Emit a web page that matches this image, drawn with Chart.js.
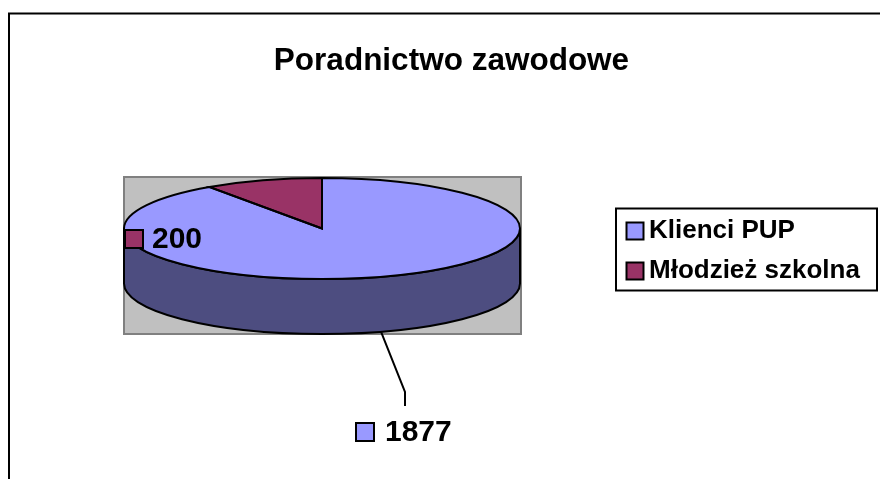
<!DOCTYPE html>
<html><head><meta charset="utf-8">
<script src="https://cdn.jsdelivr.net/npm/chart.js@4"></script>
<style>html,body{margin:0;padding:0;background:#fff}canvas{display:block}</style>
</head><body><canvas id="c" width="880" height="479"></canvas>
<script>
const titleText = 'Poradnictwo zawodowe';
const categories = ['Klienci PUP', 'Młodzież szkolna'];
const values = [1877, 200];
const colors = ['#9999FF', '#993366'];
const sideColors = ['#4D4D80', '#4D1A33'];

const FONT = '"Liberation Sans", Arial, sans-serif';
const AREA = {left: 124, right: 520, cy: 228.5};   // footprint of the pie
const SQUASH = 50.5 / 198, DEPTH = 55;
const BACK = {x: 124, y: 177, w: 397, h: 157};     // grey plot background
const LEGEND = {x: 616, y: 208.5, w: 261, h: 82};
const TITLE_CENTER = 451.5;
const LABELS = [
  {box: [356, 423], text: [385, 432.5]},
  {box: [125, 230], text: [152, 239.5]}
];
const LEADER_ELBOW = {x: 405, y: 392, endY: 406};

function ellipsePath(ctx, a, start, end) {
  ctx.ellipse(a.x, a.y, a.outerRadius, a.outerRadius * SQUASH, 0, start, end);
}

const pie3d = {
  id: 'pie3d',
  afterLayout(chart) {
    const r = (AREA.right - AREA.left) / 2;
    const top = AREA.cy - r, bottom = AREA.cy + r;
    Object.assign(chart.chartArea, {left: AREA.left, right: AREA.right, top, bottom, width: 2 * r, height: 2 * r});
    const tb = chart.titleBlock;
    tb.left = TITLE_CENTER - 220; tb.right = TITLE_CENTER + 220; tb.top = 42;
    tb.bottom = tb.top + tb.height;
    const lg = chart.legend;
    lg.left = 620; lg.top = 204;
    lg.right = lg.left + LEGEND.w; lg.bottom = 320;
  },
  beforeDraw(chart) {
    const c = chart.ctx;
    c.save();
    c.strokeStyle = '#000'; c.lineWidth = 2;
    c.beginPath(); c.moveTo(9, 479); c.lineTo(9, 13.5); c.lineTo(880, 13.5); c.stroke();
    c.fillStyle = '#C0C0C0'; c.strokeStyle = '#808080';
    c.fillRect(BACK.x, BACK.y, BACK.w, BACK.h);
    c.strokeRect(BACK.x, BACK.y, BACK.w, BACK.h);
    c.strokeStyle = '#000';
    c.strokeRect(LEGEND.x, LEGEND.y, LEGEND.w, LEGEND.h);
    c.restore();
  },
  beforeDatasetsDraw(chart) {
    const c = chart.ctx, arcs = chart.getDatasetMeta(0).data;
    // side wall of every slice, lower half only
    c.save();
    c.strokeStyle = '#000'; c.lineWidth = 2; c.lineJoin = 'round';
    arcs.forEach((a, i) => {
      [0, 2 * Math.PI].forEach(k => {
        const lo = Math.max(a.startAngle, k), hi = Math.min(a.endAngle, k + Math.PI);
        if (hi <= lo) return;
        c.beginPath();
        ellipsePath(c, a, lo, hi);
        c.ellipse(a.x, a.y + DEPTH, a.outerRadius, a.outerRadius * SQUASH, 0, hi, lo, true);
        c.closePath();
        c.fillStyle = sideColors[i];
        c.fill(); c.stroke();
      });
    });
    c.restore();
    const a0 = arcs[0];
    c.save();
    c.translate(0, a0.y); c.scale(1, SQUASH); c.translate(0, -a0.y);
  },
  afterDatasetsDraw(chart) {
    const c = chart.ctx, arcs = chart.getDatasetMeta(0).data;
    c.restore();
    c.save();
    c.strokeStyle = '#000'; c.lineWidth = 2; c.lineJoin = 'miter';
    arcs.forEach(a => {
      c.beginPath();
      c.moveTo(a.x, a.y);
      ellipsePath(c, a, a.startAngle, a.endAngle);
      c.closePath();
      c.stroke();
    });
    // leader line of the first slice, from the middle of its outer wall
    const a = arcs[0], mid = (a.startAngle + a.endAngle) / 2;
    c.beginPath();
    c.moveTo(a.x + a.outerRadius * Math.cos(mid), a.y + a.outerRadius * SQUASH * Math.sin(mid) + DEPTH);
    c.lineTo(LEADER_ELBOW.x, LEADER_ELBOW.y);
    c.lineTo(LEADER_ELBOW.x, LEADER_ELBOW.endY);
    c.stroke();
    // value labels with their colour keys
    c.font = 'bold 30px ' + FONT;
    c.textBaseline = 'middle'; c.textAlign = 'left';
    values.forEach((v, i) => {
      const l = LABELS[i];
      c.fillStyle = colors[i];
      c.fillRect(l.box[0], l.box[1], 18, 18);
      c.strokeRect(l.box[0], l.box[1], 18, 18);
      c.fillStyle = '#000';
      c.fillText(String(v), l.text[0], l.text[1]);
    });
    c.restore();
  }
};

new Chart(document.getElementById('c'), {
  type: 'pie',
  data: {labels: categories, datasets: [{data: values, backgroundColor: colors, borderWidth: 0, clip: false}]},
  plugins: [pie3d],
  options: {
    responsive: false, animation: false, events: [],
    plugins: {
      tooltip: {enabled: false},
      title: {display: true, text: titleText, color: '#000', padding: 0,
              font: {family: FONT, size: 31.5, weight: 'bold', lineHeight: 1.2}},
      legend: {
        position: 'right', align: 'start',
        labels: {
          color: '#000', usePointStyle: true, boxWidth: 2, boxHeight: 17, padding: 14,
          font: {family: FONT, size: 26, weight: 'bold', lineHeight: 1},
          generateLabels: () => categories.map((t, i) => ({
            text: t, fillStyle: colors[i], strokeStyle: '#000', lineWidth: 2, pointStyle: 'rect', index: i
          }))
        }
      }
    }
  }
});
</script></body></html>
